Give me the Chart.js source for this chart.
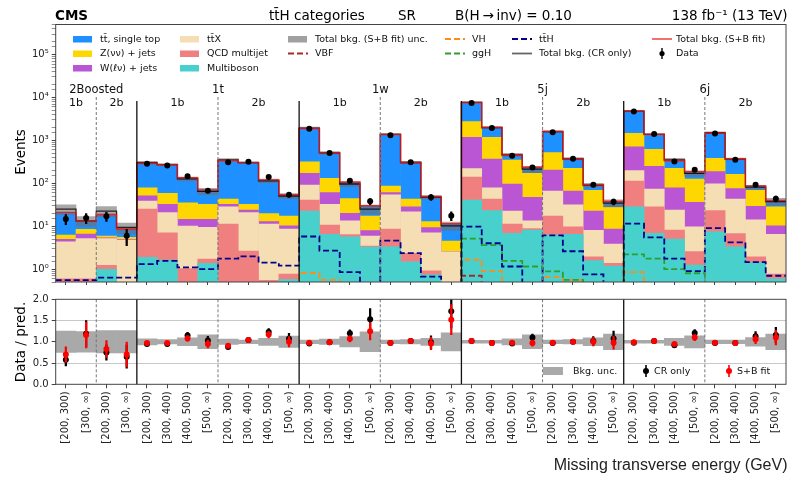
<!DOCTYPE html>
<html><head><meta charset="utf-8">
<script src="https://cdn.jsdelivr.net/npm/chart.js@4.4.1/dist/chart.umd.min.js"></script>
<style>
html,body{margin:0;padding:0;background:#fff;width:790px;height:484px;overflow:hidden;}
canvas{position:absolute;left:0;}
#c1{top:0}
#c2{top:290px}
</style></head><body>
<canvas id="c1" width="790" height="290"></canvas>
<canvas id="c2" width="790" height="194"></canvas>
<script>
// ---------------- DATA ----------------
const binLabels = [
 "[200, 300)","[300, ∞)","[200, 300)","[300, ∞)",
 "[200, 300)","[300, 400)","[400, 500)","[500, ∞)","[200, 300)","[300, 400)","[400, 500)","[500, ∞)",
 "[200, 300)","[300, 400)","[400, 500)","[500, ∞)","[200, 300)","[300, 400)","[400, 500)","[500, ∞)",
 "[200, 300)","[300, 400)","[400, 500)","[500, ∞)","[200, 300)","[300, 400)","[400, 500)","[500, ∞)",
 "[200, 300)","[300, 400)","[400, 500)","[500, ∞)","[200, 300)","[300, 400)","[400, 500)","[500, ∞)"
];
const regionNames = ["2Boosted","1t","1w","5j","6j"];
const regionBins = [4,8,8,8,8];
const subNames = ["1b","2b"];

// background components (S+B fit), events per bin
const multiboson  = [0.3,0.3,1.0,0.3, 1.9,1.65,0.3,1.38, 0.3,0.2,0.15,0.58, 22.9,6.6,5.75,3.3, 3.37,1.5,0.75,0.2, 41,23.5,6.9,8.2, 6.3,6.6,1.6,1.2, 28.8,6.9,5.1,1.27, 7.5,3.37,1.45,0.6];
const qcdMultijet = [0.3,0.3,0.24,0.2, 23.6,5.45,0.75,0.37, 11.1,2.47,0.41,0.2, 18.1,4.2,0.75,0.2, 5.33,0.86,0.18,0.2, 100,20,4.5,0.8, 11.2,3.24,0.37,0.18, 86,21.9,3.1,1.33, 16,3.5,0.52,0.18];
const ttX         = [3.8,4.6,3.96,4.3, 13.5,13.9,9.15,7.75, 17.4,18.3,10.84,7.9, 51,22.2,7,2.5, 46.3,19.6,6.2,2.16, 84,36.5,11.6,4.5, 49.5,22,6.2,2.5, 85,46,15.8,7.24, 74.5,36.6,12.3,5.8];
const wJets       = [0.6,1.45,0.25,0.2, 13,12,4.4,5.1, 4.2,3,1.6,1.7, 81,29,6.7,2.0, 7,6.8,2.3,0.06, 975,292,74,34.5, 139,35,14.8,4.8, 520,177,56,26.7, 92,33.5,15.2,3.8];
const zJets       = [1.3,1.95,0.55,0.6, 28,26,20.9,18.4, 10.5,9,7,7, 149,70,24.8,9.4, 26,14.7,3.6,1.98, 1600,828,256,125, 319,159,47,19.3, 760,378,146,90.5, 200,88,40.5,18.4];
const ttSingleTop = [14.7,4.7,12.7,3.0, 214,211,98.5,37, 296.5,270,100,36.6, 1568,378,62,12.6, 1287,260,36,6.8, 4800,790,97,62, 1075,146,22,9.5, 3320,760,113,59, 1090,201,17,10.7];

const crOnlyTotal = [25,13.3,22.5,9.3, 300,272,126,65, 352,303,114,50.5, 1930,510,96,25, 1375,304,47.5,10.2, 7630,1990,458,213, 1600,372,90,34.5, 4800,1370,350,170, 1500,366,81,37.5];
const dataEvents  = [14.7,15.5,17,6, 285,258,145,67, 310,315,140,54, 1850,505,115,38, 1320,310,47,17.4, 7400,1930,440,232, 1550,372,92,37, 4700,1400,322,205, 1450,355,92,43.5];
const bkgUnc      = [0.26,0.25,0.27,0.27, 0.08,0.06,0.1,0.17, 0.07,0.05,0.09,0.14, 0.05,0.07,0.13,0.24, 0.05,0.06,0.09,0.22, 0.04,0.04,0.08,0.17, 0.05,0.06,0.1,0.19, 0.04,0.04,0.09,0.15, 0.05,0.05,0.11,0.19];

// signals
const sigTTH = [0.55,0.55,0.63,0.63, 1.3,1.55,1.1,1.0, 1.75,1.97,1.42,1.2, 5.75,2.7,0.85,0.3, 4.6,2.36,0.67,0.3, 9.8,4.0,1.15,0.45, 6.1,2.6,0.75,0.4, 11.4,5.5,1.75,0.9, 9.0,4.2,1.45,0.7];
const sigGGH = [0.1,0.1,0.1,0.1, 0.2,0.2,0.15,0.1, 0.2,0.2,0.15,0.1, 0.3,0.3,0.2,0.1, 0.3,0.2,0.1,0.1, 5.1,3.6,1.55,1.15, 0.88,0.56,0.4,0.3, 2.2,1.75,1.0,0.8, 0.45,0.35,0.3,0.25];
const sigVH  = [0.05,0.05,0.05,0.05, 0.1,0.1,0.1,0.1, 0.1,0.1,0.1,0.1, 0.81,0.56,0.3,0.2, 0.3,0.2,0.1,0.1, 1.65,0.9,0.4,0.3, 0.65,0.55,0.3,0.2, 0.85,0.45,0.3,0.2, 0.4,0.3,0.2,0.1];
const sigVBF = [0.05,0.05,0.05,0.05, 0.05,0.05,0.05,0.05, 0.05,0.05,0.05,0.05, 0.2,0.1,0.05,0.05, 0.1,0.05,0.05,0.05, 0.7,0.35,0.15,0.1, 0.2,0.1,0.05,0.05, 0.4,0.2,0.1,0.05, 0.2,0.1,0.05,0.05];

// ratio panel
const ratioCR    = [0.58,1.19,0.75,0.65, 0.95,0.95,1.15,1.03, 0.88,1.04,1.23,1.07, 0.96,0.99,1.2,1.53, 0.97,1.02,0.99,1.72, 1.02,0.97,0.96,1.1, 0.97,1.0,1.02,1.08, 0.98,1.02,0.92,1.21, 0.97,0.97,1.13,1.16];
const ratioSB    = [0.7,1.16,0.83,0.7, 0.97,0.97,1.08,0.95, 0.91,1.04,1.17,1.0, 0.98,0.99,1.07,1.25, 0.97,1.02,0.96,1.52, 1.02,0.97,0.98,0.97, 0.98,1.0,1.0,0.98, 0.99,1.02,0.95,1.1, 0.98,0.97,1.06,1.1];
const ratioErrCR = [0.15,0.31,0.18,0.27, 0.03,0.03,0.07,0.1, 0.03,0.03,0.08,0.13, 0.02,0.03,0.08,0.25, 0.02,0.03,0.15,0.4, 0.01,0.02,0.04,0.08, 0.02,0.03,0.1,0.17, 0.01,0.02,0.04,0.08, 0.02,0.04,0.11,0.18];

// ---------------- CHART ----------------
const N = binLabels.length;
const FONT = "'DejaVu Sans', sans-serif";
Chart.defaults.font.family = FONT;
Chart.defaults.color = '#222';
const SUP = ['⁰','¹','²','³','⁴','⁵','⁶'];
const isPow10 = v => { const l = Math.log10(v); return Math.abs(l - Math.round(l)) < 1e-6; };
const stepPts = arr => { const p = arr.map((v,i)=>({x:i,y:v})); p.push({x:arr.length,y:arr[arr.length-1]}); return p; };

const stackDefs = [
  {label:'Multiboson', vals:multiboson, color:'#48d1cc'},
  {label:'QCD multijet', vals:qcdMultijet, color:'#f08080'},
  {label:'tt\u0304X', vals:ttX, color:'#f5deb3'},
  {label:'W(ℓν) + jets', vals:wJets, color:'#ba55d3'},
  {label:'Z(νν) + jets', vals:zJets, color:'#ffd700'},
  {label:'tt\u0304, single top', vals:ttSingleTop, color:'#1e90ff'}
];
let run = new Array(N).fill(0);
const cumTops = stackDefs.map(d => (run = run.map((v,i)=>v + d.vals[i])));
const sbTotal = cumTops[cumTops.length-1];

const COL = {vbf:'#a52a2a', vh:'#ff8c1a', ggh:'#2ca02c', tth:'#00008b', sb:'rgba(235,20,20,0.85)', cr:'rgba(0,0,0,0.8)'};

function stepLine(label, arr, color, width, dash, order){
  return {type:'line', label, data:stepPts(arr), xAxisID:'x2', yAxisID:'y', borderColor:color,
    borderWidth:width, borderDash:dash, pointRadius:0, stepped:'before', fill:false, tension:0, order};
}

const ds1 = [];
stackDefs.forEach((d,k)=>{
  ds1.push({type:'bar', label:d.label, data:cumTops[k].map(v=>[0.01,v]), backgroundColor:d.color,
    borderWidth:0, grouped:false, barPercentage:1.03, categoryPercentage:1, order:30+k, xAxisID:'x', yAxisID:'y'});
});
ds1.push({type:'bar', label:'Total bkg. unc.', data:crOnlyTotal.map((v,i)=>[v*(1-bkgUnc[i]), v*(1+bkgUnc[i])]),
  backgroundColor:'rgba(110,110,110,0.6)', borderWidth:0, grouped:false, barPercentage:1, categoryPercentage:1, order:25, xAxisID:'x', yAxisID:'y'});
ds1.push(stepLine('Total bkg. (CR only)', crOnlyTotal, COL.cr, 1.3, [], 14));
ds1.push(stepLine('Total bkg. (S+B fit)', sbTotal, COL.sb, 1.4, [], 13));
ds1.push(stepLine('VBF', sigVBF, COL.vbf, 1.8, [6,3], 12));
ds1.push(stepLine('VH', sigVH, COL.vh, 1.8, [6,3], 11));
ds1.push(stepLine('ggH', sigGGH, COL.ggh, 1.8, [6,3], 10));
ds1.push(stepLine('tt\u0304H', sigTTH, COL.tth, 1.8, [6,3], 9));
const dataErr = dataEvents.map((d,i)=> d*ratioErrCR[i]/ratioCR[i]);
ds1.push({type:'bar', label:'Data err', data:dataEvents.map((d,i)=>[d-dataErr[i], d+dataErr[i]]), backgroundColor:'#000',
  barThickness:1.6, grouped:false, order:3, xAxisID:'x', yAxisID:'y'});
ds1.push({type:'line', label:'Data', data:dataEvents.map((d,i)=>({x:i+0.5,y:d})), xAxisID:'x2', yAxisID:'y', showLine:false,
  pointRadius:3, pointBackgroundColor:'#000', pointBorderWidth:0, order:1});

function region(){ // edges derived from bin structure
  const starts=[]; let s=0; regionBins.forEach(b=>{starts.push(s); s+=b;});
  return starts;
}
function vline(ctx,x,y0,y1,dash,color,w){ctx.save();ctx.beginPath();ctx.setLineDash(dash);ctx.strokeStyle=color;ctx.lineWidth=w;ctx.moveTo(x,y0);ctx.lineTo(x,y1);ctx.stroke();ctx.restore();}

const deco1 = {id:'deco1', afterDraw(chart){
  const ctx=chart.ctx, a=chart.chartArea, x2=chart.scales.x2;
  const starts=region();
  ctx.save();
  starts.forEach((s,r)=>{
    const half=regionBins[r]/2;
    if(s>0) vline(ctx, x2.getPixelForValue(s), 101, a.bottom, [], '#111', 1.3);
    vline(ctx, x2.getPixelForValue(s+half), 97, a.bottom, [3,2], '#777', 1);
    ctx.fillStyle='#111'; ctx.textAlign='center'; ctx.textBaseline='alphabetic';
    ctx.font=`11.5px ${FONT}`;
    ctx.fillText(regionNames[r], x2.getPixelForValue(s+half), 93);
    ctx.font=`11px ${FONT}`;
    subNames.forEach((n,j)=> ctx.fillText(n, x2.getPixelForValue(s+half*j+half/2), 106));
  });
  ctx.strokeStyle='#444'; ctx.lineWidth=1; ctx.setLineDash([]);
  ctx.strokeRect(a.left, a.top, a.right-a.left, a.bottom-a.top);
  // header
  ctx.fillStyle='#000'; ctx.textAlign='left'; ctx.textBaseline='alphabetic';
  ctx.font=`bold 13.5px ${FONT}`; ctx.fillText('CMS', 55, 20);
  ctx.font=`13.5px ${FONT}`;
  ctx.fillText('tt\u0304H categories', 269, 20);
  ctx.fillText('SR', 398, 20);
  ctx.fillText('B(H\u2009→\u2009inv) = 0.10', 455, 20);
  ctx.textAlign='right'; ctx.fillText('138 fb⁻¹ (13 TeV)', 787.5, 20);
  // y title
  ctx.save(); ctx.translate(21,152); ctx.rotate(-Math.PI/2); ctx.textAlign='center'; ctx.textBaseline='middle';
  ctx.font=`13.5px ${FONT}`; ctx.fillText('Events',0,0); ctx.restore();
  // legend
  const cols=[73,180,288,445,512,652], rows=[39,53.5,68];
  const items=[
    {c:0,r:0,t:'box',col:'#1e90ff',l:'tt\u0304, single top'},
    {c:0,r:1,t:'box',col:'#ffd700',l:'Z(νν) + jets'},
    {c:0,r:2,t:'box',col:'#ba55d3',l:'W(ℓν) + jets'},
    {c:1,r:0,t:'box',col:'#f5deb3',l:'tt\u0304X'},
    {c:1,r:1,t:'box',col:'#f08080',l:'QCD multijet'},
    {c:1,r:2,t:'box',col:'#48d1cc',l:'Multiboson'},
    {c:2,r:0,t:'box',col:'#a0a0a0',l:'Total bkg. (S+B fit) unc.'},
    {c:2,r:1,t:'dash',col:COL.vbf,l:'VBF'},
    {c:3,r:0,t:'dash',col:COL.vh,l:'VH'},
    {c:3,r:1,t:'dash',col:COL.ggh,l:'ggH'},
    {c:4,r:0,t:'dash',col:COL.tth,l:'tt\u0304H'},
    {c:4,r:1,t:'line',col:'#666',l:'Total bkg. (CR only)'},
    {c:5,r:0,t:'line',col:'#f06060',l:'Total bkg. (S+B fit)'},
    {c:5,r:1,t:'pt',col:'#000',l:'Data'}
  ];
  ctx.font=`9.5px ${FONT}`; ctx.textAlign='left'; ctx.textBaseline='middle';
  items.forEach(it=>{
    const x=cols[it.c], y=rows[it.r];
    if(it.t==='box'){ctx.fillStyle=it.col; ctx.fillRect(x,y-3,19,6.5);}
    else if(it.t==='pt'){ctx.fillStyle='#000'; ctx.beginPath(); ctx.arc(x+10,y,2.6,0,Math.PI*2); ctx.fill(); vline(ctx,x+10,y-5.5,y+5.5,[],'#000',1.4);}
    else {ctx.save(); ctx.beginPath(); ctx.setLineDash(it.t==='dash'?[6,3]:[]); ctx.strokeStyle=it.col; ctx.lineWidth=1.8; ctx.moveTo(x,y); ctx.lineTo(x+20,y); ctx.stroke(); ctx.restore();}
    ctx.fillStyle='#111';
    ctx.fillText(it.l, x+(it.c===5?24:27), y+0.5);
  });
  ctx.restore();
}};

new Chart(document.getElementById('c1'), {
  type:'bar',
  data:{labels:binLabels, datasets:ds1},
  options:{
    responsive:false, animation:false, devicePixelRatio:1,
    layout:{padding:{top:24.5,right:2.5,left:0,bottom:0}},
    plugins:{legend:{display:false}, tooltip:{enabled:false}},
    scales:{
      x:{type:'category', offset:true, ticks:{display:false},
         grid:{display:true, drawOnChartArea:false, drawTicks:true, tickLength:3, offset:false, color:'#444'},
         border:{display:false}, afterFit(s){s.height=8; s.paddingLeft=0; s.paddingRight=0;}},
      x2:{type:'linear', min:0, max:N, display:false, offset:false, grid:{offset:false}},
      y:{type:'logarithmic', min:0.5, max:5e5,
         ticks:{autoSkip:false, padding:3, font:{size:10}, color:'#222',
           callback:(v)=> isPow10(v) ? '10'+SUP[Math.round(Math.log10(v))] : ''},
         grid:{drawOnChartArea:false, tickLength:4, tickColor:'#444', tickWidth:(c)=> (c.tick && isPow10(c.tick.value)) ? 1 : 0.6},
         border:{display:false}, afterFit(s){s.width=55.7; s.paddingTop=0; s.paddingBottom=0;}}
    }
  },
  plugins:[deco1]
});

// ---------------- RATIO ----------------
const errSB = ratioErrCR.map((e,i)=> e*ratioSB[i]/ratioCR[i]);
const ds2 = [
  {type:'bar', label:'Bkg. unc.', data:bkgUnc.map(u=>[1-u,1+u]), backgroundColor:'#a9a9a9', borderWidth:0, grouped:false,
    barPercentage:1.03, categoryPercentage:1, order:20, xAxisID:'x', yAxisID:'y'},
  {type:'bar', label:'CR err', data:ratioCR.map((r,i)=>[r-ratioErrCR[i], r+ratioErrCR[i]]), backgroundColor:'#000',
    barThickness:1.6, grouped:false, order:8, xAxisID:'x', yAxisID:'y'},
  {type:'line', label:'CR only', data:ratioCR.map((r,i)=>({x:i+0.5,y:r})), xAxisID:'x2', yAxisID:'y', showLine:false,
    pointRadius:3, pointBackgroundColor:'#000', pointBorderWidth:0, order:7},
  {type:'bar', label:'SB err', data:ratioSB.map((r,i)=>[r-errSB[i], r+errSB[i]]), backgroundColor:'#ff0000',
    barThickness:1.6, grouped:false, order:6, xAxisID:'x', yAxisID:'y'},
  {type:'line', label:'S+B fit', data:ratioSB.map((r,i)=>({x:i+0.5,y:r})), xAxisID:'x2', yAxisID:'y', showLine:false,
    pointRadius:3, pointBackgroundColor:'#ff0000', pointBorderWidth:0, order:5}
];

const deco2 = {id:'deco2', afterDraw(chart){
  const ctx=chart.ctx, a=chart.chartArea, x2=chart.scales.x2;
  const starts=region();
  ctx.save();
  starts.forEach((s,r)=>{
    const half=regionBins[r]/2;
    if(s>0) vline(ctx, x2.getPixelForValue(s), a.top, a.bottom, [], '#111', 1.3);
    vline(ctx, x2.getPixelForValue(s+half), a.top, a.bottom, [3,2], '#777', 1);
  });
  ctx.strokeStyle='#444'; ctx.lineWidth=1; ctx.strokeRect(a.left,a.top,a.right-a.left,a.bottom-a.top);
  ctx.fillStyle='#000';
  ctx.save(); ctx.translate(21,52); ctx.rotate(-Math.PI/2); ctx.textAlign='center'; ctx.textBaseline='middle';
  ctx.font=`13.5px ${FONT}`; ctx.fillText('Data / pred.',0,0); ctx.restore();
  ctx.font=`16px 'Liberation Sans', sans-serif`; ctx.textAlign='right'; ctx.textBaseline='middle';
  ctx.fillStyle='#222'; ctx.fillText('Missing transverse energy (GeV)', 787.5, 176);
  // legend
  const ly=81;
  ctx.fillStyle='#a9a9a9'; ctx.fillRect(543,ly-4,20,8);
  ctx.font=`9.5px ${FONT}`; ctx.textAlign='left'; ctx.fillStyle='#111';
  ctx.fillText('Bkg. unc.',573,ly+0.5);
  vline(ctx,646,ly-6,ly+6,[],'#000',1.6); ctx.fillStyle='#000'; ctx.beginPath(); ctx.arc(646,ly,3,0,Math.PI*2); ctx.fill();
  ctx.fillStyle='#111'; ctx.fillText('CR only',654,ly+0.5);
  vline(ctx,729,ly-6,ly+6,[],'#ff0000',1.6); ctx.fillStyle='#ff0000'; ctx.beginPath(); ctx.arc(729,ly,3,0,Math.PI*2); ctx.fill();
  ctx.fillStyle='#111'; ctx.fillText('S+B fit',737,ly+0.5);
  ctx.restore();
}};

new Chart(document.getElementById('c2'), {
  type:'bar',
  data:{labels:binLabels, datasets:ds2},
  options:{
    responsive:false, animation:false, devicePixelRatio:1,
    layout:{padding:{top:9.3,right:2.5,left:0,bottom:0}},
    plugins:{legend:{display:false}, tooltip:{enabled:false}},
    scales:{
      x:{type:'category', offset:true,
         ticks:{autoSkip:false, minRotation:90, maxRotation:90, padding:3, font:{size:10}, color:'#222'},
         grid:{display:true, drawOnChartArea:false, drawTicks:true, tickLength:4, offset:false, color:'#444'},
         border:{display:false}, afterFit(s){s.height=99.7; s.paddingLeft=0; s.paddingRight=0;}},
      x2:{type:'linear', min:0, max:N, display:false, offset:false, grid:{offset:false}},
      y:{type:'linear', min:0, max:2,
         ticks:{stepSize:0.5, padding:3, font:{size:10}, color:'#222', callback:(v)=>v.toFixed(1)},
         grid:{color:(c)=> (c.tick && (c.tick.value===0 || c.tick.value===2)) ? 'rgba(0,0,0,0)' : '#c8c8c8', lineWidth:1, tickLength:4, tickColor:'#444'},
         border:{display:false}, afterFit(s){s.width=55.7; s.paddingTop=0; s.paddingBottom=0;}}
    }
  },
  plugins:[deco2]
});
</script>
</body></html>
